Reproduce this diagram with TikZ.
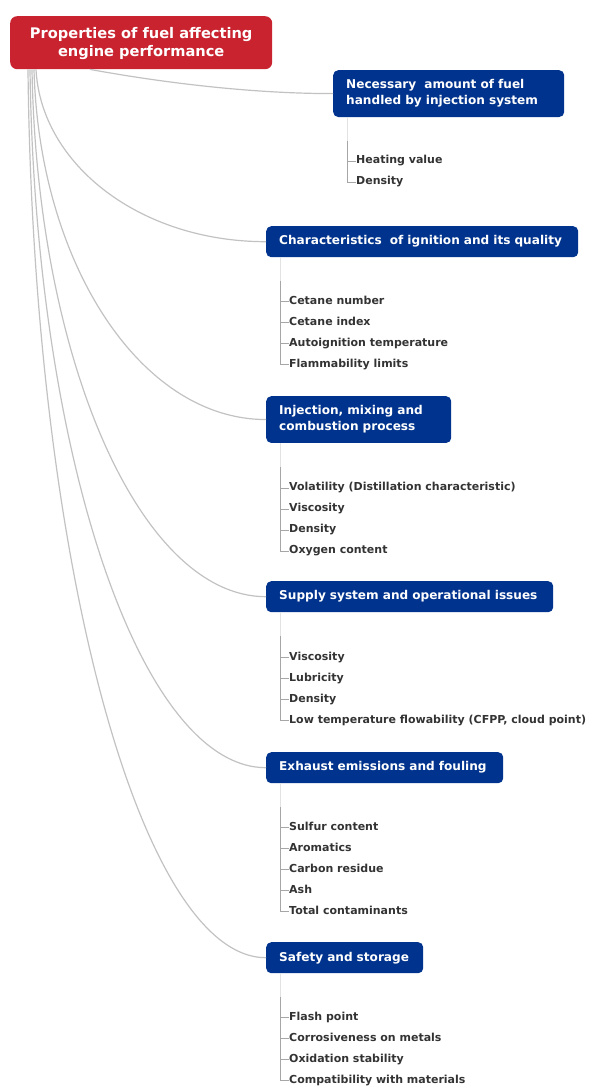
\documentclass[tikz,border=0pt]{standalone}
\usepackage{fontspec}
\setmainfont{DejaVu Sans}
\usetikzlibrary{positioning}
\definecolor{rootred}{HTML}{C8232F}
\definecolor{topicblue}{HTML}{00338D}
\definecolor{leafgray}{HTML}{333333}
\definecolor{limbgray}{HTML}{C2C2C2}
\definecolor{twiggray}{HTML}{A6A6A6}
\definecolor{stemgray}{HTML}{E2E2E2}

\begin{document}
\begin{tikzpicture}[x=1pt,y=-1pt,
    root/.style={
      fill=rootred,
      text=white,
      rounded corners=7pt,
      align=center,
      minimum width=262pt,
      minimum height=53pt,
      inner sep=0pt,
      anchor=north west,
      font=\fontsize{14.6}{17.5}\selectfont\bfseries
    },
    topic/.style={
      fill=topicblue,
      text=white,
      rounded corners=5pt,
      align=left,
      inner xsep=13pt,
      inner ysep=9.5pt,
      minimum height=31pt,
      anchor=north west,
      font=\fontsize{12.1}{16}\selectfont\bfseries
    },
    leaf/.style={
      text=leafgray,
      anchor=west,
      inner sep=0pt,
      text height=8pt,
      text depth=2.5pt,
      font=\fontsize{11}{12}\selectfont\bfseries
    },
    limb/.style={draw=limbgray,line width=1.2pt},
    stem/.style={draw=stemgray,line width=0.8pt},
    twig/.style={draw=twiggray,line width=0.6pt}
  ]
  \useasboundingbox (0,0) rectangle (590,1086);

  % root and topics
  \node[root] (fuel) at (10,16) {\rule{0pt}{13pt}Properties of fuel affecting\\engine performance};
  \node[topic,text width=205pt] (amt) at (333,70) {Necessary~ amount of fuel\\handled by injection system};
  \node[topic,text width=286pt] (ign) at (266,226) {Characteristics~ of ignition and its quality};
  \node[topic,text width=159pt] (mix) at (266,396) {Injection, mixing and\\combustion process};
  \node[topic,text width=261pt] (sup) at (266,581) {Supply system and operational issues};
  \node[topic,text width=211pt] (emi) at (266,752) {Exhaust emissions and fouling};
  \node[topic,text width=131pt] (saf) at (266,942) {Safety and storage};

  % leaves
  \node[leaf] (amt1) at ([xshift=23pt,yshift=-44pt]amt.south west) {Heating value};
  \node[leaf] (amt2) at ([yshift=-21pt]amt1.west) {Density};

  \node[leaf] (ign1) at ([xshift=23pt,yshift=-44pt]ign.south west) {Cetane number};
  \node[leaf] (ign2) at ([yshift=-21pt]ign1.west) {Cetane index};
  \node[leaf] (ign3) at ([yshift=-21pt]ign2.west) {Autoignition temperature};
  \node[leaf] (ign4) at ([yshift=-21pt]ign3.west) {Flammability limits};

  \node[leaf] (mix1) at ([xshift=23pt,yshift=-45pt]mix.south west) {Volatility (Distillation characteristic)};
  \node[leaf] (mix2) at ([yshift=-21pt]mix1.west) {Viscosity};
  \node[leaf] (mix3) at ([yshift=-21pt]mix2.west) {Density};
  \node[leaf] (mix4) at ([yshift=-21pt]mix3.west) {Oxygen content};

  \node[leaf] (sup1) at ([xshift=23pt,yshift=-45pt]sup.south west) {Viscosity};
  \node[leaf] (sup2) at ([yshift=-21pt]sup1.west) {Lubricity};
  \node[leaf] (sup3) at ([yshift=-21pt]sup2.west) {Density};
  \node[leaf] (sup4) at ([yshift=-21pt]sup3.west) {Low temperature flowability (CFPP, cloud point)};

  \node[leaf] (emi1) at ([xshift=23pt,yshift=-44pt]emi.south west) {Sulfur content};
  \node[leaf] (emi2) at ([yshift=-21pt]emi1.west) {Aromatics};
  \node[leaf] (emi3) at ([yshift=-21pt]emi2.west) {Carbon residue};
  \node[leaf] (emi4) at ([yshift=-21pt]emi3.west) {Ash};
  \node[leaf] (emi5) at ([yshift=-21pt]emi4.west) {Total contaminants};

  \node[leaf] (saf1) at ([xshift=23pt,yshift=-44pt]saf.south west) {Flash point};
  \node[leaf] (saf2) at ([yshift=-21pt]saf1.west) {Corrosiveness on metals};
  \node[leaf] (saf3) at ([yshift=-21pt]saf2.west) {Oxidation stability};
  \node[leaf] (saf4) at ([yshift=-21pt]saf3.west) {Compatibility with materials};

  % curved limbs from the root
  \draw[limb] ([xshift=80pt]fuel.south west) .. controls +(60pt,-11pt) and +(-90pt,0pt) .. (amt.west);
  \draw[limb] ([xshift=26pt]fuel.south west) .. controls +(5pt,-95pt) and +(-126pt,0pt) .. (ign.west);
  \draw[limb] ([xshift=24pt]fuel.south west) .. controls +(5pt,-193pt) and +(-126pt,0pt) .. (mix.west);
  \draw[limb] ([xshift=22pt]fuel.south west) .. controls +(5pt,-290pt) and +(-126pt,0pt) .. (sup.west);
  \draw[limb] ([xshift=20pt]fuel.south west) .. controls +(5pt,-384pt) and +(-126pt,0pt) .. (emi.west);
  \draw[limb] ([xshift=18pt]fuel.south west) .. controls +(5pt,-489pt) and +(-126pt,0pt) .. (saf.west);

  % stems and twigs to the leaves
  \foreach \t/\n in {amt/2,ign/4,mix/4,sup/4,emi/5,saf/4} {
    \coordinate (\t k) at ([xshift=14pt,yshift=-24pt]\t.south west);
    \draw[stem] ([xshift=14pt]\t.south west) -- (\t k);
    \draw[twig] (\t k) |- (\t\n.west);
    \foreach \k in {1,...,\n}
      \draw[twig] (\t\k.west -| \t k) -- (\t\k.west);
  }
\end{tikzpicture}
\end{document}
